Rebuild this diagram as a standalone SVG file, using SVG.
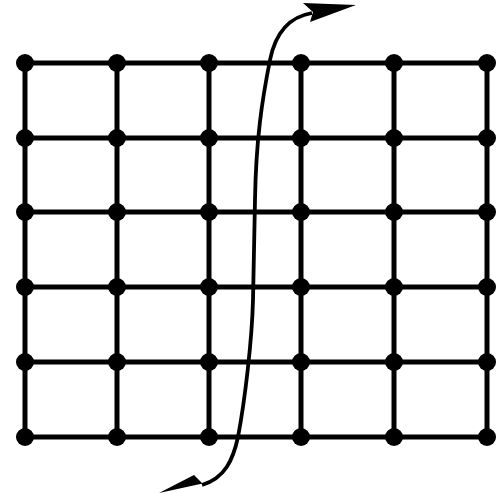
<svg xmlns="http://www.w3.org/2000/svg" width="504" height="502" viewBox="0 0 504 502">
<style>
.g{stroke:#000;stroke-width:5;fill:none;stroke-linecap:round}
.n{fill:#000}
.c{stroke:#000;stroke-width:3.8;fill:none}
</style>
<rect width="504" height="502" fill="#fff"/>
<g id="grid-lines">
<path class="g" d="M25,63H487M25,138H487M25,212H487M25,287H487M25,362H487M25,437H487"/>
<path class="g" d="M25,63V437M117,63V437M209,63V437M301,63V437M394,63V437M487,63V437"/>
</g>
<g id="nodes">
<g id="r1"><circle class="n" cx="25" cy="63" r="9"/><circle class="n" cx="117" cy="63" r="9"/><circle class="n" cx="209" cy="63" r="9"/><circle class="n" cx="301" cy="63" r="9"/><circle class="n" cx="394" cy="63" r="9"/><circle class="n" cx="487" cy="63" r="9"/></g>
<g id="r2"><circle class="n" cx="25" cy="138" r="9"/><circle class="n" cx="117" cy="138" r="9"/><circle class="n" cx="209" cy="138" r="9"/><circle class="n" cx="301" cy="138" r="9"/><circle class="n" cx="394" cy="138" r="9"/><circle class="n" cx="487" cy="138" r="9"/></g>
<g id="r3"><circle class="n" cx="25" cy="212" r="9"/><circle class="n" cx="117" cy="212" r="9"/><circle class="n" cx="209" cy="212" r="9"/><circle class="n" cx="301" cy="212" r="9"/><circle class="n" cx="394" cy="212" r="9"/><circle class="n" cx="487" cy="212" r="9"/></g>
<g id="r4"><circle class="n" cx="25" cy="287" r="9"/><circle class="n" cx="117" cy="287" r="9"/><circle class="n" cx="209" cy="287" r="9"/><circle class="n" cx="301" cy="287" r="9"/><circle class="n" cx="394" cy="287" r="9"/><circle class="n" cx="487" cy="287" r="9"/></g>
<g id="r5"><circle class="n" cx="25" cy="362" r="9"/><circle class="n" cx="117" cy="362" r="9"/><circle class="n" cx="209" cy="362" r="9"/><circle class="n" cx="301" cy="362" r="9"/><circle class="n" cx="394" cy="362" r="9"/><circle class="n" cx="487" cy="362" r="9"/></g>
<g id="r6"><circle class="n" cx="25" cy="437" r="9"/><circle class="n" cx="117" cy="437" r="9"/><circle class="n" cx="209" cy="437" r="9"/><circle class="n" cx="301" cy="437" r="9"/><circle class="n" cx="394" cy="437" r="9"/><circle class="n" cx="487" cy="437" r="9"/></g>
</g>
<g id="connectors">
<path class="c" d="M312,13 C288,17 275,35 270,60 C262,100 256,140 255,200 L253,300 C252,340 245,400 238,437 C233,460 225,478 202,485"/>
<polygon points="356,5 303,3 313,12 310,22" fill="#000"/>
<polygon points="159,493 194,475 203,484 214,481" fill="#000"/>
</g>
</svg>
